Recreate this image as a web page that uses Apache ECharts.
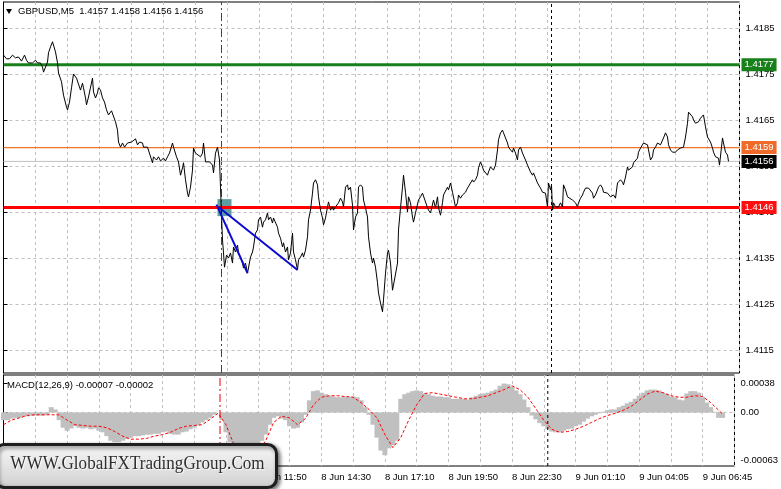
<!DOCTYPE html>
<html><head><meta charset="utf-8">
<script src="https://cdn.jsdelivr.net/npm/echarts@6/dist/echarts.min.js"></script>
<style>html,body{margin:0;padding:0;background:#fff}#c{width:781px;height:489px}</style>
</head><body><div id="c"></div>
<script>
// ---- data ----
const symbolTitle = 'GBPUSD,M5';
const lastBar = ['1.4157', '1.4158', '1.4156', '1.4156'];
const macdTitle = 'MACD(12,26,9) -0.00007 -0.00002';
const priceTicks = [1.4115, 1.4125, 1.4135, 1.4145, 1.4155, 1.4165, 1.4175, 1.4185];
const macdTicks = [0.00038, 0, -0.00063];
const timeLabelIdx = [0, 32, 64, 96, 128, 160, 192, 224, 256, 288, 320, 352];
const timeLabels = ['8 Jun 01:10', '8 Jun 03:50', '8 Jun 06:30', '8 Jun 09:10', '8 Jun 11:50', '8 Jun 14:30', '8 Jun 17:10', '8 Jun 19:50', '8 Jun 22:30', '9 Jun 01:10', '9 Jun 04:05', '9 Jun 06:45'];
// [bar index, close]
const pricePoints = [[0,1.41791],[1.5,1.41783],[3,1.41783],[4.5,1.41791],[6,1.41785],[7.5,1.41787],[8,1.41791],[9,1.41778],[10.5,1.41791],[11.5,1.41780],[12.5,1.41774],[14.5,1.41774],[16,1.41780],[17,1.41774],[18.5,1.41774],[19.5,1.41765],[20,1.41754],[21,1.41754],[22,1.41776],[22.5,1.41796],[23.5,1.41809],[24.5,1.41820],[25,1.41820],[26,1.41798],[27,1.41774],[27.5,1.41752],[29,1.41733],[30,1.41704],[31.5,1.41678],[32,1.41672],[33,1.41689],[34,1.41720],[35,1.41750],[36.5,1.41741],[37.5,1.41741],[38.5,1.41715],[39.5,1.41730],[40,1.41720],[41,1.41698],[41.5,1.41683],[42.5,1.41700],[43,1.41704],[44.5,1.41741],[45,1.41711],[46,1.41698],[47,1.41709],[47.5,1.41720],[48.5,1.41715],[49.5,1.41698],[50.5,1.41689],[51.5,1.41672],[52.5,1.41661],[54,1.41670],[55,1.41672],[56,1.41646],[57,1.41628],[57.5,1.41602],[58.5,1.41591],[59.5,1.41600],[60.5,1.41591],[62,1.41600],[64,1.41602],[65,1.41602],[66,1.41609],[67,1.41596],[68,1.41602],[69.5,1.41600],[70,1.41591],[72,1.41591],[73,1.41589],[74.5,1.41557],[75,1.41570],[76.5,1.41563],[77.5,1.41570],[78.5,1.41561],[80,1.41567],[81,1.41561],[82,1.41570],[83,1.41578],[84.5,1.41600],[85,1.41591],[86.5,1.41570],[87.5,1.41559],[88.5,1.41530],[89.5,1.41546],[90,1.41557],[91,1.41520],[92,1.41491],[92.5,1.41483],[93.5,1.41504],[94.5,1.41541],[95,1.41589],[96,1.41578],[97,1.41580],[98.5,1.41570],[99.5,1.41578],[100,1.41600],[101,1.41559],[102,1.41557],[103,1.41559],[104.5,1.41552],[105,1.41535],[106,1.41578],[107,1.41591],[107.5,1.41589],[108,1.41563],[108.5,1.41504],[109,1.41443],[109.5,1.41389],[110,1.41361],[110.5,1.41330],[111.5,1.41356],[112.5,1.41350],[113.5,1.41361],[114.5,1.41339],[115,1.41374],[116,1.41363],[117,1.41378],[117.5,1.41361],[118.5,1.41352],[119.5,1.41339],[120,1.41328],[121,1.41339],[122,1.41317],[122.5,1.41320],[123.5,1.41352],[124.5,1.41363],[125,1.41374],[126,1.41404],[127,1.41411],[127.5,1.41433],[128.5,1.41439],[129.5,1.41417],[130,1.41428],[131,1.41433],[132,1.41448],[132.5,1.41433],[133.5,1.41439],[134.5,1.41426],[135,1.41437],[136,1.41439],[137,1.41417],[137.5,1.41404],[138.5,1.41393],[139.5,1.41374],[140,1.41383],[141,1.41363],[142,1.41374],[142.5,1.41346],[143.5,1.41361],[144.5,1.41404],[145,1.41363],[146,1.41346],[147,1.41324],[147.5,1.41346],[148.5,1.41352],[149.5,1.41361],[150,1.41352],[151,1.41367],[152,1.41396],[152.5,1.41433],[153.5,1.41454],[154.5,1.41491],[155,1.41513],[156,1.41520],[157,1.41509],[157.5,1.41483],[158.5,1.41454],[159.5,1.41437],[160,1.41422],[161,1.41437],[162,1.41461],[162.5,1.41472],[163.5,1.41454],[164.5,1.41461],[165,1.41454],[166,1.41461],[167,1.41459],[167.5,1.41470],[168.5,1.41480],[169.5,1.41472],[170,1.41461],[171,1.41504],[172,1.41509],[172.5,1.41498],[173.5,1.41504],[174.5,1.41465],[175,1.41411],[176,1.41439],[177,1.41448],[177.5,1.41504],[178.5,1.41509],[179.5,1.41504],[180,1.41476],[181,1.41459],[182,1.41439],[182.5,1.41396],[183.5,1.41361],[184.5,1.41339],[185,1.41350],[186,1.41330],[187,1.41296],[187.5,1.41274],[188.5,1.41252],[189.5,1.41233],[190,1.41259],[191,1.41317],[192,1.41361],[192.5,1.41367],[193.5,1.41339],[194.5,1.41280],[195,1.41291],[196,1.41291],[197,1.41339],[197.5,1.41411],[198.5,1.41459],[199.5,1.41504],[200,1.41530],[201,1.41493],[202,1.41450],[202.5,1.41483],[203.5,1.41470],[204.5,1.41439],[205,1.41428],[206,1.41448],[207,1.41450],[207.5,1.41476],[208.5,1.41483],[209.5,1.41491],[210,1.41487],[211,1.41472],[212,1.41459],[212.5,1.41454],[213.5,1.41448],[214.5,1.41450],[215,1.41476],[216,1.41459],[217,1.41483],[217.5,1.41459],[218.5,1.41443],[219.5,1.41470],[220,1.41487],[221,1.41483],[222,1.41504],[222.5,1.41498],[223.5,1.41513],[224.5,1.41493],[225,1.41491],[226,1.41461],[227,1.41470],[227.5,1.41487],[228.5,1.41480],[229.5,1.41487],[230,1.41483],[231,1.41493],[232,1.41502],[232.5,1.41504],[233.5,1.41513],[234.5,1.41520],[235,1.41515],[236,1.41520],[237,1.41530],[237.5,1.41546],[238.5,1.41559],[239.5,1.41548],[240,1.41541],[241,1.41541],[242,1.41530],[242.5,1.41537],[243.5,1.41548],[244.5,1.41546],[245,1.41541],[246,1.41552],[247,1.41585],[247.5,1.41607],[248.5,1.41622],[249.5,1.41628],[250,1.41622],[251,1.41611],[252,1.41600],[252.5,1.41591],[253.5,1.41585],[254.5,1.41580],[255,1.41589],[256,1.41578],[257,1.41563],[257.5,1.41585],[258.5,1.41591],[259.5,1.41578],[260,1.41580],[261,1.41563],[262,1.41552],[262.5,1.41548],[263.5,1.41537],[264.5,1.41530],[265,1.41535],[266,1.41524],[267,1.41513],[267.5,1.41513],[268.5,1.41502],[269.5,1.41493],[270,1.41491],[271,1.41491],[271.5,1.41476],[272,1.41461],[272.5,1.41513],[273.5,1.41498],[274,1.41509],[274.5,1.41454],[275,1.41470],[276,1.41461],[277,1.41459],[277.5,1.41461],[278.5,1.41470],[279.5,1.41461],[280,1.41509],[281,1.41498],[282,1.41483],[283,1.41480],[284.5,1.41476],[285,1.41472],[286,1.41470],[287,1.41461],[287.5,1.41470],[288.5,1.41480],[289.5,1.41487],[290,1.41493],[291,1.41502],[292,1.41502],[292.5,1.41502],[293.5,1.41498],[294.5,1.41491],[295,1.41480],[296,1.41487],[297,1.41498],[297.5,1.41504],[298.5,1.41509],[299.5,1.41502],[300,1.41493],[301,1.41491],[302,1.41491],[302.5,1.41487],[303.5,1.41483],[304.5,1.41480],[305,1.41487],[306,1.41480],[307,1.41513],[307.5,1.41515],[308.5,1.41520],[309.5,1.41515],[310,1.41509],[311,1.41526],[312,1.41548],[312.5,1.41541],[313.5,1.41537],[314.5,1.41548],[315,1.41557],[316,1.41559],[317,1.41567],[317.5,1.41580],[318.5,1.41589],[319.5,1.41591],[320,1.41600],[321,1.41602],[322,1.41596],[322.5,1.41585],[323.5,1.41563],[324.5,1.41570],[325,1.41585],[326,1.41591],[327,1.41600],[327.5,1.41602],[328.5,1.41596],[329.5,1.41600],[330,1.41611],[331,1.41622],[332,1.41613],[332.5,1.41596],[333.5,1.41585],[334.5,1.41580],[335,1.41580],[336,1.41580],[337,1.41585],[337.5,1.41589],[338.5,1.41589],[339.5,1.41591],[340,1.41591],[341,1.41613],[342,1.41643],[342.5,1.41667],[343.5,1.41665],[344.5,1.41657],[345,1.41650],[346,1.41643],[347,1.41639],[347.5,1.41646],[348.5,1.41654],[349.5,1.41657],[350,1.41661],[351,1.41635],[352,1.41613],[352.5,1.41611],[353.5,1.41602],[354.5,1.41589],[355,1.41580],[356,1.41570],[357,1.41574],[357.5,1.41567],[358,1.41552],[359,1.41591],[359.5,1.41611],[360,1.41600],[361,1.41580],[362,1.41574],[362.5,1.41560]];
// MACD main (histogram), one value every 2 bars starting at bar 0
const macdHist = [-0.00010,-0.00010,-0.00008,-0.00007,-0.00007,-0.00005,-0.00005,-0.00004,-0.00004,-0.00004,-0.00004,-0.00003,0.00007,0.00004,-0.00010,-0.00020,-0.00024,-0.00021,-0.00018,-0.00020,-0.00021,-0.00020,-0.00022,-0.00021,-0.00024,-0.00026,-0.00031,-0.00037,-0.00039,-0.00039,-0.00037,-0.00035,-0.00033,-0.00031,-0.00031,-0.00030,-0.00029,-0.00029,-0.00028,-0.00028,-0.00026,-0.00025,-0.00028,-0.00029,-0.00029,-0.00026,-0.00025,-0.00022,-0.00020,-0.00017,-0.00013,-0.00010,-0.00007,-0.00003,0.00000,-0.00010,-0.00026,-0.00039,-0.00046,-0.00052,-0.00055,-0.00058,-0.00059,-0.00055,-0.00046,-0.00037,-0.00029,-0.00016,-0.00007,-0.00005,-0.00008,-0.00010,-0.00018,-0.00021,-0.00020,-0.00013,-0.00003,0.00016,0.00028,0.00029,0.00026,0.00024,0.00022,0.00021,0.00020,0.00020,0.00021,0.00020,0.00021,0.00020,0.00016,0.00007,-0.00003,-0.00016,-0.00033,-0.00050,-0.00056,-0.00047,-0.00043,-0.00037,0.00018,0.00024,0.00026,0.00028,0.00029,0.00028,0.00025,0.00024,0.00022,0.00021,0.00021,0.00020,0.00020,0.00018,0.00018,0.00018,0.00018,0.00017,0.00020,0.00022,0.00024,0.00025,0.00026,0.00028,0.00030,0.00035,0.00038,0.00037,0.00034,0.00029,0.00024,0.00017,0.00007,-0.00004,-0.00009,-0.00014,-0.00018,-0.00022,-0.00025,-0.00026,-0.00026,-0.00024,-0.00022,-0.00021,-0.00018,-0.00016,-0.00012,-0.00008,-0.00005,-0.00003,-0.00001,0.00001,0.00003,0.00004,0.00004,0.00007,0.00009,0.00012,0.00014,0.00018,0.00022,0.00026,0.00029,0.00030,0.00030,0.00029,0.00026,0.00024,0.00021,0.00020,0.00017,0.00016,0.00025,0.00028,0.00028,0.00026,0.00020,0.00013,0.00007,0.00001,-0.00007,-0.00007];
// MACD signal [bar index, value]
const macdSignal = [[0,-0.00016],[4,-0.00010],[8,-0.00007],[12,-0.00004],[16,-0.00003],[20,-0.00003],[24,-0.00003],[28,-0.00003],[32,-0.00010],[36,-0.00016],[40,-0.00017],[44,-0.00018],[48,-0.00018],[52,-0.00020],[56,-0.00025],[60,-0.00031],[64,-0.00035],[68,-0.00035],[72,-0.00034],[76,-0.00031],[80,-0.00029],[84,-0.00026],[88,-0.00021],[92,-0.00018],[96,-0.00017],[100,-0.00016],[104,-0.00009],[108,-0.00001],[112,-0.00016],[116,-0.00042],[120,-0.00050],[124,-0.00055],[128,-0.00052],[132,-0.00037],[136,-0.00013],[140,-0.00005],[144,-0.00007],[148,-0.00016],[152,-0.00008],[156,0.00010],[160,0.00020],[164,0.00022],[168,0.00022],[172,0.00021],[176,0.00020],[180,0.00013],[184,0.00004],[188,-0.00007],[192,-0.00029],[196,-0.00046],[200,-0.00033],[204,-0.00010],[208,0.00010],[212,0.00025],[216,0.00026],[220,0.00024],[224,0.00022],[228,0.00020],[232,0.00018],[236,0.00018],[240,0.00020],[244,0.00022],[248,0.00026],[252,0.00030],[256,0.00035],[260,0.00030],[264,0.00020],[268,0.00005],[272,-0.00010],[276,-0.00022],[280,-0.00026],[284,-0.00025],[288,-0.00022],[292,-0.00018],[296,-0.00013],[300,-0.00008],[304,-0.00004],[308,-0.00001],[312,0.00003],[316,0.00008],[320,0.00016],[324,0.00024],[328,0.00028],[332,0.00026],[336,0.00022],[340,0.00020],[344,0.00020],[348,0.00022],[352,0.00021],[356,0.00013],[360,0.00003],[362,-0.00002]];
// horizontal levels
const levelValues = [1.4177, 1.4159, 1.4156, 1.4146];
const levelColors = ['#17801a', '#f07428', '#c0c0c0', '#ff0000'];
const levelBoxColors = ['#17801a', '#f06a2a', '#000000', '#ff1010'];
const levelWidths = [3, 1.3, 1, 3];
// vertical markers (bar index)
const vRedIdx = 109, vBlackIdx = 274;
// drawn trend lines [[startIdx,startPrice],[endIdx,endPrice]]
const trendLines = [[[106.5, 1.41466], [122, 1.41317]], [[107.5, 1.41461], [147, 1.41324]]];
const boxArea = [[107, 1.41478], [114, 1.41441]];

// ---- chart ----
const chart = echarts.init(document.getElementById('c'), null, {renderer: 'canvas'});
const FONT = 'Liberation Sans';
const grey = '#c0c0c0';
const X_MAX = 368;
const P_MIN = 1.411, P_MAX = 1.419065;
const M_MIN = -0.000702, M_MAX = 0.000492;
const labelMap = {};
timeLabelIdx.forEach((v, k) => labelMap[v] = timeLabels[k]);

function vLine(idx, lo, hi, color, dash, xi, yi, z) {
  return {type: 'line', xAxisIndex: xi, yAxisIndex: yi, data: [[idx, lo], [idx, hi]], symbol: 'none', silent: true, z: z,
    lineStyle: {color: color, width: 1, type: dash}, emphasis: {disabled: true}};
}

const levelSeries = levelValues.map((v, k) => ({
  type: 'line', xAxisIndex: 0, yAxisIndex: 0, data: [[0, v], [X_MAX, v]], symbol: 'none', silent: true, z: 3,
  lineStyle: {color: levelColors[k], width: levelWidths[k]}, emphasis: {disabled: true},
  endLabel: {show: true, distance: 2, formatter: () => v.toFixed(4), color: '#fff', backgroundColor: levelBoxColors[k],
    padding: [2, 3, 1, 3], fontSize: 9.5, fontFamily: FONT}
}));

const trendSeries = trendLines.map(t => ({
  type: 'line', xAxisIndex: 0, yAxisIndex: 0, data: [t[0], t[1]], symbol: 'none', silent: true, z: 6,
  lineStyle: {color: '#0a0ad0', width: 2}, emphasis: {disabled: true}
}));

const option = {
  animation: false,
  backgroundColor: '#fff',
  textStyle: {fontFamily: FONT},
  grid: [
    {left: 3.5, top: 2, width: 736, height: 371, show: true, borderColor: '#000', borderWidth: 1},
    {left: 3.5, top: 375, width: 736, height: 91, show: true, borderColor: '#000', borderWidth: 1}
  ],
  xAxis: [
    {type: 'value', gridIndex: 0, min: 0, max: X_MAX, interval: 16,
     axisLine: {show: false}, axisTick: {show: false}, axisLabel: {show: false},
     splitLine: {show: true, lineStyle: {color: grey, type: [3, 3], width: 1}}},
    {type: 'value', gridIndex: 1, min: 0, max: X_MAX, interval: 16,
     axisLine: {show: false}, axisTick: {show: false},
     axisLabel: {show: true, align: 'left', margin: 6, fontSize: 9.5, color: '#000', fontFamily: FONT,
       formatter: v => labelMap[v] || ''},
     splitLine: {show: true, lineStyle: {color: grey, type: [3, 3], width: 1}}}
  ],
  yAxis: [
    {type: 'value', gridIndex: 0, position: 'right', min: P_MIN, max: P_MAX,
     axisLine: {show: true, lineStyle: {color: '#000'}},
     axisTick: {show: true, inside: false, length: 4, lineStyle: {color: '#000'}, customValues: priceTicks},
     axisLabel: {show: true, customValues: priceTicks, margin: 6, fontSize: 9.5, color: '#000', fontFamily: FONT,
       formatter: v => v.toFixed(4)},
     splitLine: {show: true, lineStyle: {color: grey, type: [3, 3], width: 1}}},
    {type: 'value', gridIndex: 1, position: 'right', min: M_MIN, max: M_MAX,
     axisLine: {show: true, lineStyle: {color: '#000'}},
     axisTick: {show: true, inside: false, length: 4, lineStyle: {color: '#000'}, customValues: macdTicks},
     axisLabel: {show: true, customValues: macdTicks, margin: 6, fontSize: 9.5, color: '#000', fontFamily: FONT,
       formatter: v => (v === 0 ? '0.00' : v.toFixed(5))},
     splitLine: {show: false}}
  ],
  series: [
    {type: 'line', xAxisIndex: 0, yAxisIndex: 0, data: [], z: 1, silent: true,
     markArea: {silent: true, itemStyle: {color: '#5f9ea0', opacity: 1},
       data: [[{coord: boxArea[0]}, {coord: boxArea[1]}]]}},
    vLine(vRedIdx, P_MIN, P_MAX, '#ee0000', [8, 3, 2, 3], 0, 0, 2),
    vLine(vBlackIdx, P_MIN, P_MAX, '#000000', [3, 3], 0, 0, 2),
    ...levelSeries,
    {type: 'line', xAxisIndex: 0, yAxisIndex: 0, data: pricePoints, z: 5, symbol: 'none',
     lineStyle: {color: '#000', width: 1}, silent: true, emphasis: {disabled: true}},
    ...trendSeries,
    {type: 'line', xAxisIndex: 1, yAxisIndex: 1, data: [[0, 0], [X_MAX, 0]], symbol: 'none', silent: true, z: 1,
     lineStyle: {color: grey, width: 1, type: [3, 3]}, emphasis: {disabled: true}},
    {type: 'bar', xAxisIndex: 1, yAxisIndex: 1, data: macdHist.map((v, k) => [2 * k, v]),
     barWidth: 5, itemStyle: {color: '#c0c0c0'}, silent: true, z: 2},
    {type: 'line', xAxisIndex: 1, yAxisIndex: 1, data: macdSignal, symbol: 'none', z: 4,
     lineStyle: {color: '#ff0000', width: 1, type: [3, 2]}, silent: true, emphasis: {disabled: true}},
    vLine(vRedIdx, M_MIN, M_MAX, '#ee0000', [8, 3, 2, 3], 1, 1, 3),
    vLine(vBlackIdx, M_MIN, M_MAX, '#000000', [3, 3], 1, 1, 3)
  ],
  graphic: [
    {type: 'polygon', z: 50, shape: {points: [[6, 9], [12, 9], [9, 14]]}, style: {fill: '#000'}},
    {type: 'text', z: 50, left: 18, top: 6, style: {text: symbolTitle + '  ' + lastBar.join(' '), font: '9.5px "Liberation Sans"', fill: '#000'}},
    {type: 'text', z: 50, left: 7, top: 380, style: {text: macdTitle, font: '9.5px "Liberation Sans"', fill: '#000'}},
    {type: 'group', z: 100, left: -6, top: 443, children: [
      {type: 'rect', z: 100, shape: {x: 0, y: 0, width: 281, height: 43, r: 9},
       style: {fill: new echarts.graphic.LinearGradient(0, 0, 0, 1, [{offset: 0, color: '#f8f8f8'}, {offset: 1, color: '#cfcfcf'}]),
         stroke: '#1e1e1e', lineWidth: 3, shadowBlur: 4, shadowColor: 'rgba(0,0,0,0.55)', shadowOffsetX: 2, shadowOffsetY: 2}},
      {type: 'text', z: 101, x: 142, y: 20, scaleX: 0.9,
       style: {text: 'WWW.GlobalFXTradingGroup.Com', x: 0, y: 0, align: 'center', verticalAlign: 'middle',
         font: '19px "Liberation Serif"', fill: '#2e2e2e', textShadowColor: 'rgba(255,255,255,0.9)', textShadowOffsetX: 1, textShadowOffsetY: 1, textShadowBlur: 1}}
    ]}
  ]
};
chart.setOption(option);
</script>
</body></html>
